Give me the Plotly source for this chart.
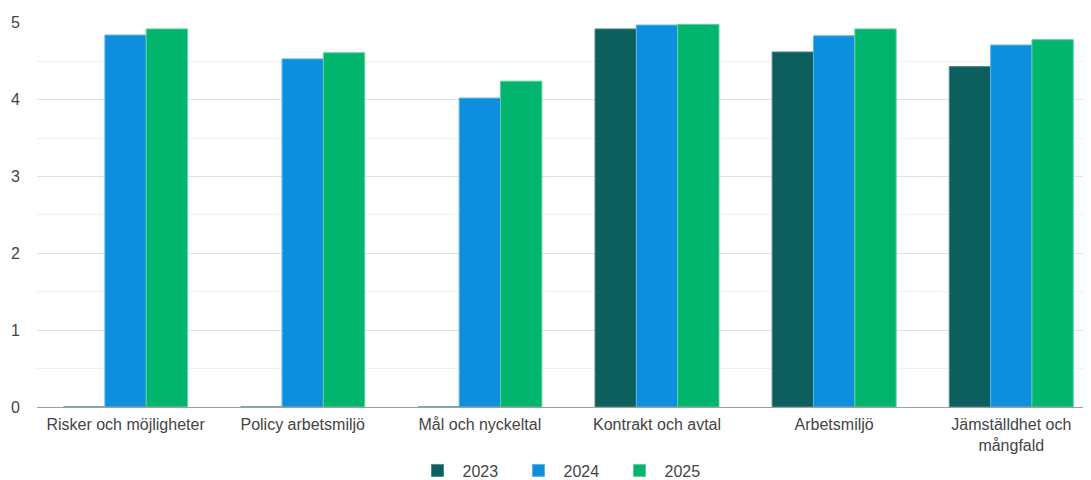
import plotly.graph_objects as go

# Categories and yearly scores
categories = [
    "Risker och möjligheter",
    "Policy arbetsmiljö",
    "Mål och nyckeltal",
    "Kontrakt och avtal",
    "Arbetsmiljö",
    "Jämställdhet och<br>mångfald",
]
years = ["2023", "2024", "2025"]
values_2023 = [0, 0, 0, 4.92, 4.62, 4.43]
values_2024 = [4.84, 4.53, 4.02, 4.97, 4.83, 4.71]
values_2025 = [4.92, 4.61, 4.24, 4.98, 4.92, 4.78]
y_ticks = [0, 1, 2, 3, 4, 5]

colors = ["#0d5f5e", "#0e8fdd", "#02b56e"]
borders = ["#4f8b8a", "#5ab3ea", "#5fd09f"]

fig = go.Figure()

for year, vals, col, edge in zip(years, [values_2023, values_2024, values_2025], colors, borders):
    fig.add_trace(go.Bar(
        x=categories,
        y=vals,
        name=year,
        marker=dict(color=col, line=dict(color=edge, width=1)),
    ))

# page body has an 8px default margin, so the figure is sized a bit smaller
fig.update_layout(
    width=1083,
    height=472,
    margin=dict(l=29, r=0, t=14, b=73, autoexpand=False),
    paper_bgcolor="white",
    plot_bgcolor="white",
    barmode="group",
    bargap=0.3,
    bargroupgap=0,
    font=dict(family="Liberation Sans, Arial, sans-serif", size=16, color="#444444"),
    legend=dict(
        orientation="h",
        x=0.5, xanchor="center",
        y=-0.165, yanchor="middle",
        font=dict(size=16, color="#444444"),
        itemwidth=40,
        entrywidth=46,
        entrywidthmode="pixels",
    ),
    xaxis=dict(
        range=[-0.5, 5.45],
        showgrid=False,
        ticks="",
        ticklabelstandoff=6,
        tickfont=dict(size=16, color="#444444"),
    ),
    yaxis=dict(
        range=[0, 5.01],
        tickvals=y_ticks,
        showgrid=True,
        gridcolor="#e2e2e2",
        zeroline=True,
        zerolinecolor="#9e9e9e",
        zerolinewidth=1,
        ticks="",
        ticklabelstandoff=16,
        tickfont=dict(size=16, color="#444444"),
        minor=dict(dtick=0.5, showgrid=True, gridcolor="#f0f0f0"),
    ),
)

fig.write_html("out.html")
